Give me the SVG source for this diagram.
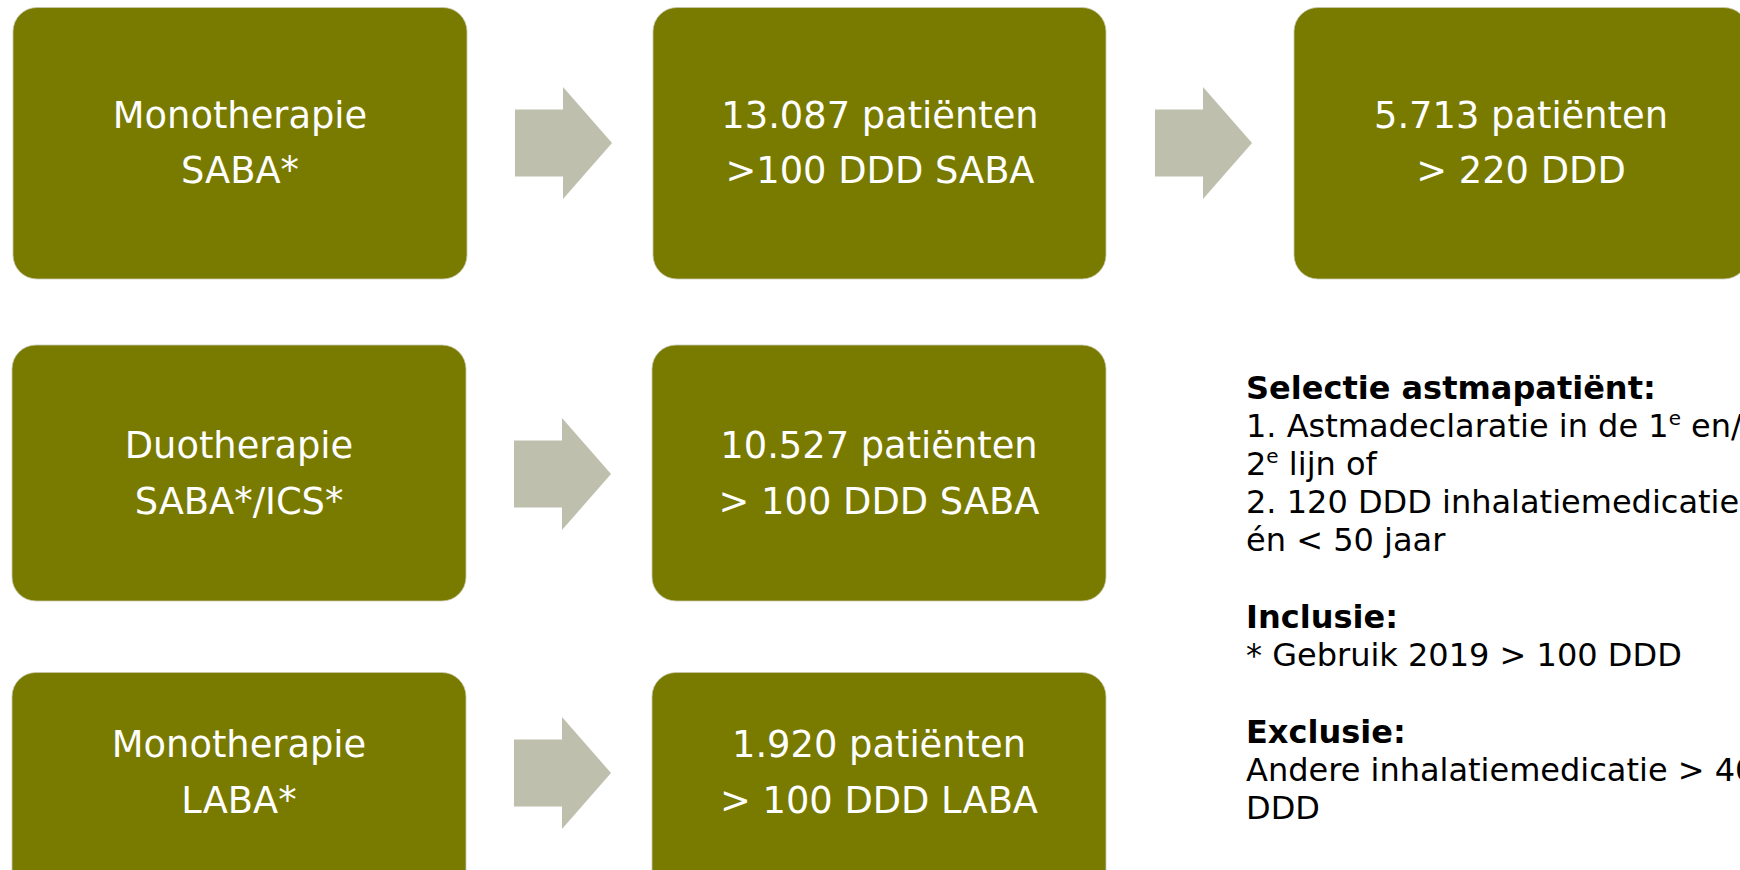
<svg xmlns="http://www.w3.org/2000/svg" width="1740" height="870" viewBox="0 0 1740 870">
<style>
.box{fill:#797a00;stroke:#c9c9b0;stroke-width:0.8}
.lbl{font-family:"DejaVu Sans","Verdana",sans-serif;font-size:36.8px;fill:#ffffff;text-anchor:middle}
.arrow{fill:#bec0ad}
.side{font-family:"DejaVu Sans","Verdana",sans-serif;font-size:32px;fill:#000000}
.b{font-weight:bold}
</style>
<defs>
<path id="arr" d="M0,-33.5 H48 V-56 L97,0 L48,56 V33.5 H0 Z"/>
</defs>
<rect width="1740" height="870" fill="#ffffff"/>
<g id="connectors">
<use href="#arr" class="arrow" x="515" y="143"/>
<use href="#arr" class="arrow" x="1155" y="143"/>
<use href="#arr" class="arrow" x="514" y="474"/>
<use href="#arr" class="arrow" x="514" y="773"/>
</g>
<g id="n1">
<rect class="box" x="13" y="7.5" width="454" height="271.5" rx="24"/>
<text class="lbl" x="240" y="128">Monotherapie</text>
<text class="lbl" x="240" y="183">SABA*</text>
</g>
<g id="n2">
<rect class="box" x="653" y="7.5" width="453" height="271.5" rx="24"/>
<text class="lbl" x="880" y="128">13.087 patiënten</text>
<text class="lbl" x="880" y="183">&gt;100 DDD SABA</text>
</g>
<g id="n3">
<rect class="box" x="1294" y="7.5" width="454" height="271.5" rx="24"/>
<text class="lbl" x="1521" y="128">5.713 patiënten</text>
<text class="lbl" x="1521" y="183">&gt; 220 DDD</text>
</g>
<g id="n4">
<rect class="box" x="12" y="345" width="454" height="256" rx="24"/>
<text class="lbl" x="239" y="458">Duotherapie</text>
<text class="lbl" x="239" y="514">SABA*/ICS*</text>
</g>
<g id="n5">
<rect class="box" x="652" y="345" width="454" height="256" rx="24"/>
<text class="lbl" x="879" y="458">10.527 patiënten</text>
<text class="lbl" x="879" y="514">&gt; 100 DDD SABA</text>
</g>
<g id="n6">
<rect class="box" x="12" y="672.5" width="454" height="256" rx="24"/>
<text class="lbl" x="239" y="757">Monotherapie</text>
<text class="lbl" x="239" y="813">LABA*</text>
</g>
<g id="n7">
<rect class="box" x="652" y="672.5" width="454" height="256" rx="24"/>
<text class="lbl" x="879" y="757">1.920 patiënten</text>
<text class="lbl" x="879" y="813">&gt; 100 DDD LABA</text>
</g>
<g id="notes" class="side">
<text class="b" x="1246" y="399">Selectie astmapatiënt:</text>
<text x="1246" y="437">1. Astmadeclaratie in de 1<tspan font-size="20" dy="-12">e</tspan><tspan dy="12"> en/</tspan></text>
<text x="1246" y="475">2<tspan font-size="20" dy="-12">e</tspan><tspan dy="12"> lijn of</tspan></text>
<text x="1246" y="513">2. 120 DDD inhalatiemedicatie</text>
<text x="1246" y="551">én &lt; 50 jaar</text>
<text class="b" x="1246" y="628">Inclusie:</text>
<text x="1246" y="666">* Gebruik 2019 &gt; 100 DDD</text>
<text class="b" x="1246" y="743">Exclusie:</text>
<text x="1246" y="781">Andere inhalatiemedicatie &gt; 40</text>
<text x="1246" y="819">DDD</text>
</g>
</svg>
